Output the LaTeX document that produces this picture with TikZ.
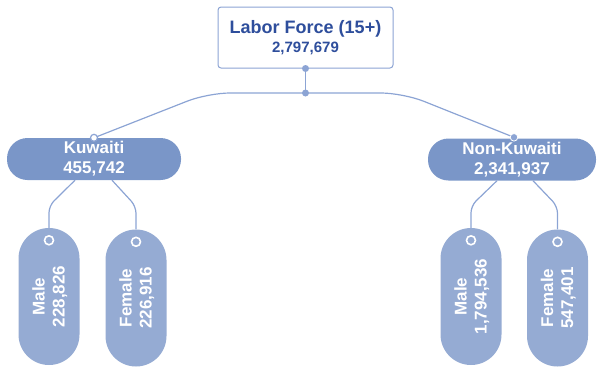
\documentclass[tikz,border=0pt]{standalone}
\usepackage{fontspec}
\setmainfont{Liberation Sans}
\usepackage{xcolor}
\usepackage{tikz}
\usetikzlibrary{positioning,calc}

\definecolor{linec}{HTML}{8CA4D4}
\definecolor{pillc}{HTML}{7A96C8}
\definecolor{tagc}{HTML}{95ABD3}
\definecolor{titlec}{HTML}{2E4E9C}

\begin{document}
\begin{tikzpicture}[x=1pt, y=-1pt, top/.style={draw=linec, line width=1pt, fill=white, rounded corners=3pt, minimum width=175pt, minimum height=61pt, inner sep=0pt, align=center, text=titlec, font=\fontsize{18}{21}\selectfont\bfseries}, group/.style={fill=pillc, rounded corners=20.5pt, minimum height=42pt, inner sep=0pt, align=center, text=white, font=\fontsize{17}{20}\selectfont\bfseries}, tag/.style={fill=tagc, rotate=90, rounded corners=30.5pt, minimum width=137pt, minimum height=61pt, inner sep=0pt, align=center, text=white, font=\fontsize{17}{20}\selectfont\bfseries}, link/.style={draw=linec, line width=1.2pt}, hole/.style={circle, draw=white, line width=1.6pt, inner sep=0pt, minimum size=9pt}]

\useasboundingbox (0,0) rectangle (597,368);

\node[top] (lf) at (305.5,37.5) {Labor Force (15+)\\[-2pt]{\fontsize{15}{18}\selectfont 2,797,679}};
\node[group, minimum width=174pt] (kw) at (94,159) {Kuwaiti\\455,742};
\node[group, minimum width=168pt] (nk) at (512,159.5) {Non-Kuwaiti\\2,341,937};

\node[tag, text depth=1pt] (km) at (49,296.5) {Male\\228,826};
\node[tag, text depth=1pt] (kf) at (136,298) {Female\\226,916};
\node[tag, text depth=1pt] (nm) at (471,296.5) {Male\\1,794,536};
\node[tag, text depth=1pt] (nf) at (557.5,298) {Female\\547,401};

% holes in the tags
\foreach \t in {km,kf,nm,nf}
  \node[hole] (\t h) at ($(\t.east)+(0,12.5)$) {};

% top to the two groups
\coordinate (hub) at (305.5,93);
\coordinate (nkpin) at ($(nk.north)+(2,-1)$);
\draw[link] (lf.south) -- (hub);
\draw[link, rounded corners=22pt] (hub) -- (208,93) -- (kw.north);
\draw[link, rounded corners=22pt] (hub) -- (403,93) -- (nkpin);
\fill[linec] (lf.south) circle (3.5pt) (hub) circle (3.5pt);
\filldraw[draw=linec, fill=white, line width=1.2pt] (kw.north) circle (3.5pt);
\filldraw[draw=white, fill=linec, line width=0.8pt] (nkpin) circle (3.8pt);

% groups to the tags
\draw[link, rounded corners=7pt] ($(kw.south)+(-19,0)$) -- ($(km.east)+(0,-22)$) -- (km.east);
\draw[link, rounded corners=7pt] ($(kw.south)+(18,0)$) -- ($(kf.east)+(0,-23)$) -- (kf.east);
\draw[link, rounded corners=7pt] ($(nk.south)+(-15,0)$) -- ($(nm.east)+(0,-22)$) -- (nm.east);
\draw[link, rounded corners=7pt] ($(nk.south)+(21,0)$) -- ($(nf.east)+(0,-23)$) -- (nf.east);
\end{tikzpicture}
\end{document}
